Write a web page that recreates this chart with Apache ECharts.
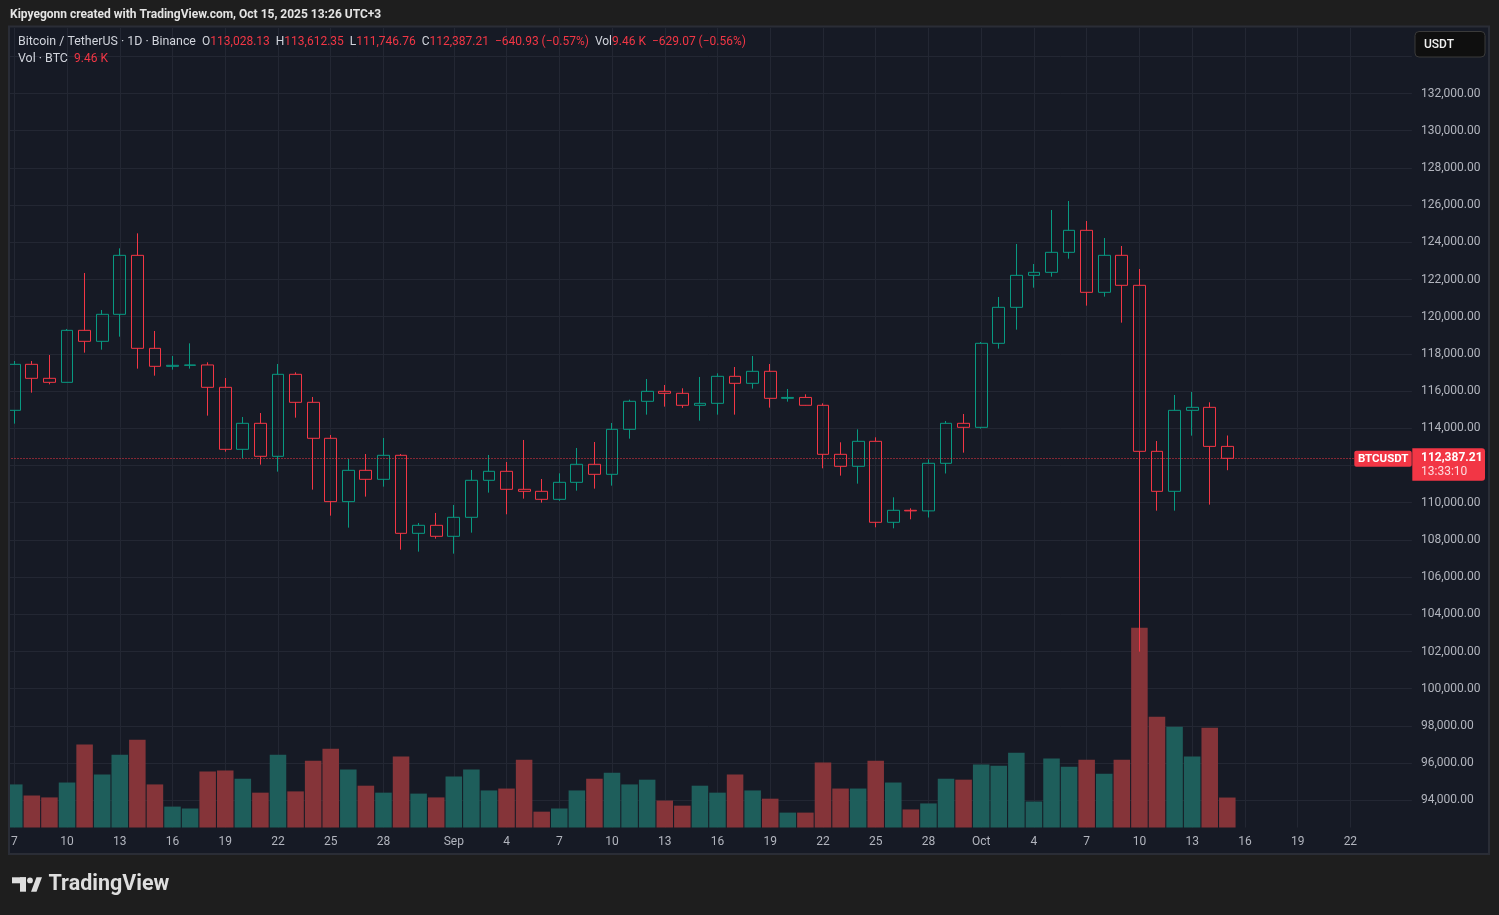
<!DOCTYPE html>
<html><head><meta charset="utf-8">
<script src="https://cdn.jsdelivr.net/npm/echarts@6/dist/echarts.min.js"></script>
<style>html,body{margin:0;padding:0;background:#1e1e1e;}#c{width:1499px;height:915px;}</style>
</head><body><div id="c"></div>
<script>
// ---- categories (daily, Binance BTCUSDT) ----
const dates = [
'2025-08-07','2025-08-08','2025-08-09','2025-08-10','2025-08-11','2025-08-12','2025-08-13','2025-08-14','2025-08-15','2025-08-16',
'2025-08-17','2025-08-18','2025-08-19','2025-08-20','2025-08-21','2025-08-22','2025-08-23','2025-08-24','2025-08-25','2025-08-26',
'2025-08-27','2025-08-28','2025-08-29','2025-08-30','2025-08-31',
'2025-09-01','2025-09-02','2025-09-03','2025-09-04','2025-09-05','2025-09-06','2025-09-07','2025-09-08','2025-09-09','2025-09-10',
'2025-09-11','2025-09-12','2025-09-13','2025-09-14','2025-09-15','2025-09-16','2025-09-17','2025-09-18','2025-09-19','2025-09-20',
'2025-09-21','2025-09-22','2025-09-23','2025-09-24','2025-09-25','2025-09-26','2025-09-27','2025-09-28','2025-09-29','2025-09-30',
'2025-10-01','2025-10-02','2025-10-03','2025-10-04','2025-10-05','2025-10-06','2025-10-07','2025-10-08','2025-10-09','2025-10-10',
'2025-10-11','2025-10-12','2025-10-13','2025-10-14','2025-10-15','2025-10-16','2025-10-17','2025-10-18','2025-10-19','2025-10-20',
'2025-10-21','2025-10-22','2025-10-23','2025-10-24','2025-10-25'];

const tickDates = ['2025-08-07','2025-08-10','2025-08-13','2025-08-16','2025-08-19','2025-08-22','2025-08-25','2025-08-28',
'2025-09-01','2025-09-04','2025-09-07','2025-09-10','2025-09-13','2025-09-16','2025-09-19','2025-09-22','2025-09-25','2025-09-28',
'2025-10-01','2025-10-04','2025-10-07','2025-10-10','2025-10-13','2025-10-16','2025-10-19','2025-10-22'];

// ---- OHLC ----
const open = [
114967,117440,116687,116472,119267,118676,120128,123299,118300,117332,117386,117405,116203,112870,114268,112494,116902,115397,113462,110057,111741,111257,112548,108354,108784,
108193,109215,111204,111688,110720,110612,110182,111096,112064,111526,113945,115451,115988,115881,115236,115343,116795,116418,117064,115612,115660,115236,112601,111956,113300,108946,109591,109560,112118,114268,
114053,118569,120504,122224,122386,123461,124644,121311,123300,121687,112762,110612,114966,115127,113028.13];
const close = [
117440,116687,116472,119267,118676,120128,123299,118300,117332,117386,117405,116203,112870,114268,112494,116902,115397,113462,110057,111741,111257,112548,108354,108784,108193,
109215,111204,111688,110720,110612,110182,111096,112064,111526,113945,115451,115988,115881,115236,115343,116795,116418,117064,115612,115660,115236,112601,111956,113300,108946,109591,109560,112118,114268,114053,
118569,120504,122224,122386,123461,124644,121311,123300,121687,112762,110612,114966,115127,113028.14,112387.21];
const high = [
117619,117619,117941,119339,122350,120361,123676,124482,119232,117888,118569,117547,116705,114608,114823,117458,117010,115684,113641,112351,112619,113480,112619,108910,109448,
109878,111759,112566,112189,113372,111275,111580,112942,113264,114286,115540,116651,116329,116150,116759,116956,117296,117888,117458,116114,115827,115343,113247,113945,113515,110290,109698,112333,114393,114770,
118640,121060,123909,122834,125737,126221,125145,124232,123801,122565,113317,115790,115952,115396,113612.35];
const low = [
114250,115916,116364,116464,118067,118228,118927,117207,116830,117153,117207,114680,112745,112386,112046,111670,114572,110702,109304,108659,110326,110863,107476,107369,108068,
107261,108390,110541,109376,110218,110003,110100,110648,110756,110917,113444,114734,115164,115100,114411,114734,114734,116132,115110,115433,115220,111849,111455,111024,108677,108623,109107,109205,111570,112691,
113981,118282,119304,121561,122153,123120,120594,121078,119680,101992,109572,109572,113604,109895,111746.76];
// ---- Volume (BTC) ----
const volume = [
13600,10100,9500,14200,26200,16700,23000,27700,13600,6600,6000,17700,18000,15400,11000,23000,11400,21100,24900,18300,13200,11000,22400,10700,9500,
16100,18300,11700,12300,21400,5000,6000,11700,15400,17300,13600,15100,8500,6900,13200,11000,16700,11700,9100,4700,4700,20500,12300,12300,21100,14200,5700,7600,15400,15100,
19900,19500,23600,8200,21800,19200,21400,17000,21400,63100,35000,31800,22400,31500,9460];

// ---- price axis ticks ----
const priceMin = 92000, priceMax = 136000, priceStep = 2000;
const labelMin = 94000, labelMax = 132000;
const timerText = '13:33:10';
const volLegendChange = '\u2212629.07 (\u22120.56%)';

const FONT = 'Roboto, "Liberation Sans", sans-serif';
const BG = '#161a25', PAGE = '#1e1e1e', GRID = '#232733', UP = '#089981', DOWN = '#f23645';
const TXT = '#b2b5be', LEG = '#d1d4dc', VOL_UP = '#1e5e5b', VOL_DOWN = '#853439';
const MONTHS = ['Jan','Feb','Mar','Apr','May','Jun','Jul','Aug','Sep','Oct','Nov','Dec'];
const fmt = v => v.toLocaleString('en-US', {minimumFractionDigits: 2, maximumFractionDigits: 2});
const tickSet = new Set(tickDates);
const n = open.length;

const candleData = open.map((o, i) => [o, close[i], low[i], high[i]]);
const volData = volume.map((v, i) => ({value: v, itemStyle: {color: close[i] >= open[i] ? VOL_UP : VOL_DOWN}}));
const priceCount = Math.round((priceMax - priceMin) / priceStep) + 1;
const splitColors = Array.from({length: priceCount}, (_, k) => (k === 0 || k === priceCount - 1) ? 'rgba(0,0,0,0)' : GRID);

const chart = echarts.init(document.getElementById('c'), null, {renderer: 'canvas', width: 1499, height: 915});

const option = {
  backgroundColor: BG,
  animation: false,
  grid: [
    {left: 5.5, right: 87.1, top: 28, bottom: 87.5},
    {left: 5.5, right: 87.1, top: 19.1, bottom: 77.5}
  ],
  xAxis: [
    {type: 'category', data: dates, gridIndex: 0, boundaryGap: true,
     axisLine: {show: false}, axisTick: {show: false},
     axisLabel: {interval: (i, v) => tickSet.has(v), color: TXT, fontFamily: FONT, fontSize: 12, margin: 8,
       formatter: v => { const d = +v.slice(8); return d === 1 ? MONTHS[+v.slice(5, 7) - 1] : String(d); }},
     splitLine: {show: true, interval: (i, v) => tickSet.has(v), alignWithLabel: true, lineStyle: {color: GRID, width: 1}}},
    {type: 'category', data: dates, gridIndex: 1, boundaryGap: true, show: false}
  ],
  yAxis: [
    {type: 'value', gridIndex: 0, min: 0, max: v => v.max * 4, show: false, splitLine: {show: false}},
    {type: 'value', gridIndex: 1, position: 'right', min: priceMin, max: priceMax, interval: priceStep,
     axisLine: {show: false}, axisTick: {show: false},
     axisLabel: {color: TXT, fontFamily: FONT, fontSize: 12, margin: 9,
       formatter: v => (v >= labelMin && v <= labelMax) ? fmt(v) : ''},
     splitLine: {show: true, lineStyle: {color: splitColors, width: 1}}}
  ],
  series: [
    {type: 'bar', xAxisIndex: 0, yAxisIndex: 0, data: volData, barWidth: '94%', silent: true},
    {type: 'candlestick', xAxisIndex: 1, yAxisIndex: 1, data: candleData, barWidth: '70%', silent: true,
     itemStyle: {color: 'rgba(0,0,0,0)', color0: 'rgba(0,0,0,0)', borderColor: UP, borderColor0: DOWN, borderWidth: 1},
     markLine: {silent: true, symbol: ['none', 'none'], label: {show: false},
       lineStyle: {color: DOWN, type: [1, 2], width: 1},
       data: [{yAxis: close[n - 1]}]}}
  ]
};
chart.setOption(option);

const lastClose = close[n - 1];
const prevClose = close[n - 2];
const py = chart.convertToPixel({yAxisIndex: 1}, lastClose);
const chg = lastClose - prevClose;
const pct = chg / prevClose * 100;
const sgn = chg < 0 ? '\u2212' : '+';
const chgText = sgn + fmt(Math.abs(chg)) + ' (' + sgn + Math.abs(pct).toFixed(2) + '%)';
const volText = (volume[n - 1] / 1000).toFixed(2) + ' K';
const valColor = lastClose < open[n - 1] ? 'r' : 'u';

const legendRich = {
  t: {fill: LEG, fontSize: 12.4, fontFamily: FONT},
  g: {fill: LEG, fontSize: 12, fontFamily: FONT},
  r: {fill: DOWN, fontSize: 12, fontFamily: FONT},
  u: {fill: UP, fontSize: 12, fontFamily: FONT}
};
const v = s => '{' + valColor + '|' + s + '}';
const line1 = '{t|Bitcoin / TetherUS \u00b7 1D \u00b7 Binance  }{g|O}' + v(fmt(open[n-1])) + '{g|  H}' + v(fmt(high[n-1])) +
  '{g|  L}' + v(fmt(low[n-1])) + '{g|  C}' + v(fmt(lastClose)) + '{g|  }' + v(chgText) + '{g|  Vol}' + v(volText) + '{g|  }' + v(volLegendChange);
const line2 = '{t|Vol \u00b7 BTC  }' + v(volText);

const graphics = [
  {type: 'rect', silent: true, z: 100, shape: {x: 0, y: 0, width: 1499, height: 26.5}, style: {fill: PAGE}},
  {type: 'rect', silent: true, z: 100, shape: {x: 0, y: 854, width: 1499, height: 61}, style: {fill: PAGE}},
  {type: 'rect', silent: true, z: 100, shape: {x: 0, y: 0, width: 9, height: 915}, style: {fill: PAGE}},
  {type: 'rect', silent: true, z: 100, shape: {x: 1489, y: 0, width: 10, height: 915}, style: {fill: PAGE}},
  {type: 'rect', silent: true, z: 101, shape: {x: 9, y: 26.5, width: 1480, height: 827.5}, style: {fill: 'rgba(0,0,0,0)', stroke: '#2a2d36', lineWidth: 2}},
  {type: 'text', silent: true, z: 110, x: 10, y: 15,
   style: {text: 'Kipyegonn created with TradingView.com, Oct 15, 2025 13:26 UTC+3', fill: '#e4e4e4', font: 'bold 12px ' + FONT, verticalAlign: 'middle'}},
  {type: 'text', silent: true, z: 110, x: 18, y: 42.3, style: {text: line1, rich: legendRich, fill: LEG, font: '12px ' + FONT, verticalAlign: 'middle'}},
  {type: 'text', silent: true, z: 110, x: 18, y: 59.3, style: {text: line2, rich: legendRich, fill: LEG, font: '12px ' + FONT, verticalAlign: 'middle'}},
  {type: 'rect', silent: true, z: 110, shape: {x: 1415, y: 31.5, width: 70, height: 25.5, r: 4}, style: {fill: '#0f0f0f', stroke: '#3a3a3a', lineWidth: 1}},
  {type: 'text', silent: true, z: 111, x: 1424, y: 45, style: {text: 'USDT', fill: '#f0f0f0', font: '500 12px ' + FONT, verticalAlign: 'middle'}},
  {type: 'rect', silent: true, z: 110, shape: {x: 1354.3, y: py - 7.6, width: 57.4, height: 16, r: 2}, style: {fill: DOWN}},
  {type: 'text', silent: true, z: 111, x: 1383.2, y: py + 0.8, style: {text: 'BTCUSDT', fill: '#ffffff', font: 'bold 11.5px ' + FONT, align: 'center', verticalAlign: 'middle'}},
  {type: 'rect', silent: true, z: 110, shape: {x: 1412.3, y: py - 10, width: 72.7, height: 32.4, r: [0, 3, 3, 0]}, style: {fill: DOWN}},
  {type: 'text', silent: true, z: 111, x: 1421, y: py, style: {text: fmt(lastClose), fill: '#ffffff', font: 'bold 12px ' + FONT, verticalAlign: 'middle'}},
  {type: 'text', silent: true, z: 111, x: 1421, y: py + 14, style: {text: timerText, fill: 'rgba(255,255,255,0.82)', font: '12px ' + FONT, verticalAlign: 'middle'}},
  // TradingView logo
  {type: 'rect', silent: true, z: 110, shape: {x: 12, y: 877.3, width: 14, height: 6}, style: {fill: '#dedede'}},
  {type: 'rect', silent: true, z: 110, shape: {x: 20, y: 877.3, width: 6, height: 14.4}, style: {fill: '#dedede'}},
  {type: 'circle', silent: true, z: 110, shape: {cx: 30, cy: 880.4, r: 2.9}, style: {fill: '#dedede'}},
  {type: 'polygon', silent: true, z: 110, shape: {points: [[31, 891.7], [36.5, 891.7], [42, 877.3], [36.5, 877.3]]}, style: {fill: '#dedede'}},
  {type: 'text', silent: true, z: 110, x: 48.5, y: 885, style: {text: 'TradingView', fill: '#dedede', font: 'bold 21.5px ' + FONT, verticalAlign: 'middle'}}
];
chart.setOption({graphic: graphics});
</script>
</body></html>
